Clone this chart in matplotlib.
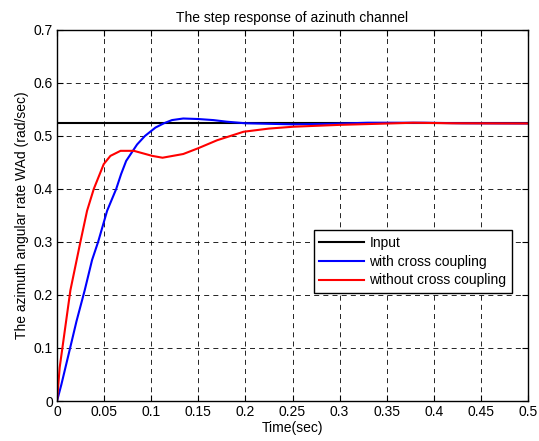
import numpy as np
import matplotlib.pyplot as plt

plt.rcParams['font.family'] = ['Liberation Sans', 'DejaVu Sans']
plt.rcParams['font.size'] = 10

# reference step
t_in = [0.0, 0.5]
y_in = [0.5236, 0.5236]

# with cross coupling (blue)
t_with = [0.0, 0.0046, 0.0135, 0.0206, 0.0294, 0.0372, 0.0436, 0.0532, 0.0628,
          0.068, 0.0734, 0.0805, 0.085, 0.0933, 0.1046, 0.1135, 0.122, 0.134,
          0.15, 0.166, 0.18, 0.2, 0.25, 0.29, 0.33, 0.39, 0.43, 0.5]
y_with = [0.0, 0.031, 0.097, 0.150, 0.209, 0.266, 0.300, 0.359, 0.400,
          0.428, 0.453, 0.472, 0.484, 0.500, 0.516, 0.524, 0.530, 0.533,
          0.532, 0.530, 0.527, 0.524, 0.522, 0.523, 0.525, 0.525, 0.524, 0.5236]

# without cross coupling (red)
t_without = [0.0, 0.0028, 0.0142, 0.0248, 0.0319, 0.039, 0.0496, 0.0567, 0.0674,
             0.0816, 0.101, 0.112, 0.134, 0.150, 0.17, 0.198, 0.225, 0.251,
             0.30, 0.34, 0.378, 0.42, 0.5]
y_without = [0.0, 0.063, 0.209, 0.300, 0.359, 0.400, 0.447, 0.4625, 0.472,
             0.472, 0.4625, 0.459, 0.466, 0.477, 0.492, 0.508, 0.514, 0.5175,
             0.521, 0.523, 0.525, 0.524, 0.5236]

fig = plt.figure(figsize=(5.39, 4.41), dpi=100)
ax = fig.add_axes([0.1058, 0.0907, 0.8738, 0.8413])

ax.plot(t_in, y_in, color='black', lw=1.5, label='Input')
ax.plot(t_with, y_with, color='blue', lw=1.5, label='with cross coupling')
ax.plot(t_without, y_without, color='red', lw=1.5, label='without cross coupling')

ax.set_xlim(0, 0.5)
ax.set_ylim(0, 0.7)
ax.set_xticks(np.arange(0, 0.501, 0.05))
ax.set_xticklabels(['0', '0.05', '0.1', '0.15', '0.2', '0.25', '0.3', '0.35', '0.4', '0.45', '0.5'])
ax.set_yticks(np.arange(0, 0.701, 0.1))
ax.set_yticklabels(['0', '0.1', '0.2', '0.3', '0.4', '0.5', '0.6', '0.7'])
ax.tick_params(direction='in', top=True, right=True, length=4, width=0.8, pad=3)
ax.grid(True, color='black', linestyle=(0, (6, 5)), linewidth=0.6)
for s in ax.spines.values():
    s.set_linewidth(1.0)

ax.set_title('The step response of azinuth channel', fontsize=10, pad=6)
ax.set_xlabel('Time(sec)', labelpad=1)
ax.set_ylabel('The azimuth angular rate WAd (rad/sec)', labelpad=3)

leg = ax.legend(loc='lower right', bbox_to_anchor=(0.966, 0.291), fancybox=False,
                framealpha=1, edgecolor='black', handlelength=3.2, borderaxespad=0,
                labelspacing=0.35, borderpad=0.4, handletextpad=0.4)
leg.get_frame().set_linewidth(1.0)

fig.savefig('out.png', dpi=100)
